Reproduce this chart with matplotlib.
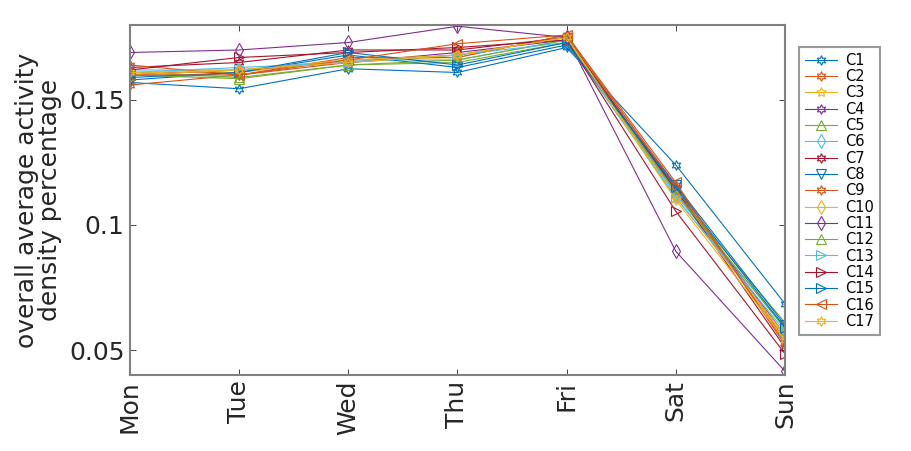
import matplotlib
matplotlib.use('agg')
import matplotlib.pyplot as plt

days = ['Mon', 'Tue', 'Wed', 'Thu', 'Fri', 'Sat', 'Sun']
names = ['C%d' % i for i in range(1, 18)]

# one list per cluster, Mon..Sun
C1 = [0.157, 0.1545, 0.1625, 0.161, 0.171, 0.124, 0.0685]
C2 = [0.156, 0.160, 0.165, 0.168, 0.175, 0.116, 0.054]
C3 = [0.161, 0.161, 0.166, 0.167, 0.176, 0.113, 0.055]
C4 = [0.160, 0.162, 0.165, 0.169, 0.174, 0.114, 0.056]
C5 = [0.161, 0.159, 0.164, 0.165, 0.173, 0.113, 0.061]
C6 = [0.162, 0.162, 0.166, 0.166, 0.174, 0.112, 0.059]
C7 = [0.163, 0.165, 0.170, 0.170, 0.175, 0.114, 0.051]
C8 = [0.158, 0.161, 0.168, 0.163, 0.172, 0.116, 0.060]
C9 = [0.164, 0.160, 0.167, 0.167, 0.176, 0.115, 0.053]
C10 = [0.160, 0.162, 0.166, 0.168, 0.175, 0.111, 0.056]
C11 = [0.169, 0.170, 0.173, 0.1795, 0.175, 0.0895, 0.0415]
C12 = [0.160, 0.1585, 0.164, 0.166, 0.174, 0.113, 0.0585]
C13 = [0.161, 0.163, 0.165, 0.168, 0.173, 0.111, 0.0575]
C14 = [0.162, 0.167, 0.169, 0.171, 0.174, 0.1055, 0.0485]
C15 = [0.159, 0.161, 0.169, 0.164, 0.173, 0.115, 0.059]
C16 = [0.160, 0.160, 0.166, 0.1725, 0.176, 0.117, 0.052]
C17 = [0.161, 0.162, 0.165, 0.168, 0.175, 0.110, 0.054]
series = [C1, C2, C3, C4, C5, C6, C7, C8, C9, C10, C11, C12, C13, C14, C15, C16, C17]

# MATLAB default color order
colors = ['#0072BD', '#D95319', '#EDB120', '#7E2F8E', '#77AC30', '#4DBEEE', '#A2142F']
hexagram = (6, 1, 0)
pentagram = (5, 1, 0)
markers = [hexagram, hexagram, pentagram, hexagram, '^', 'd', hexagram, 'v', hexagram,
           'd', 'd', '^', '>', '>', '>', '<', hexagram]

plt.rcParams['font.family'] = ['DejaVu Sans']

fig = plt.figure(figsize=(9.12, 4.51), dpi=100)
ax = fig.add_axes([0.1425, 0.1685, 0.7182, 0.7761])

x = list(range(1, 8))
for i, (vals, name) in enumerate(zip(series, names)):
    c = colors[i % len(colors)]
    ax.plot(x, vals, color=c, linewidth=0.8, marker=markers[i], markersize=7,
            markerfacecolor='none', markeredgecolor=c, markeredgewidth=0.8, label=name)

ax.set_xlim(1, 7)
ax.set_ylim(0.04, 0.18)
ax.set_xticks(x)
ax.set_xticklabels(days, rotation=90, fontsize=18, color='#262626')
ax.set_yticks([0.05, 0.1, 0.15])
ax.set_yticklabels(['0.05', '0.1', '0.15'], fontsize=18, color='#262626')
ax.tick_params(direction='in', length=4, width=0.6, color='#262626', top=True, right=True, pad=4)
for sp in ax.spines.values():
    sp.set_color('#808080')
    sp.set_linewidth(1.5)
ax.set_ylabel('overall average activity\ndensity percentage', fontsize=18, color='#262626',
              linespacing=0.95, labelpad=5)

leg = ax.legend(loc='upper left', bbox_to_anchor=(0.876, 0.8958), bbox_transform=fig.transFigure,
                fontsize=10.5, frameon=True, fancybox=False, borderpad=0.4, labelspacing=0.09,
                handlelength=2.2, handletextpad=0.6, borderaxespad=0)
leg.get_frame().set_edgecolor('#808080')
leg.get_frame().set_linewidth(1.5)

fig.savefig('out.png', dpi=100)
